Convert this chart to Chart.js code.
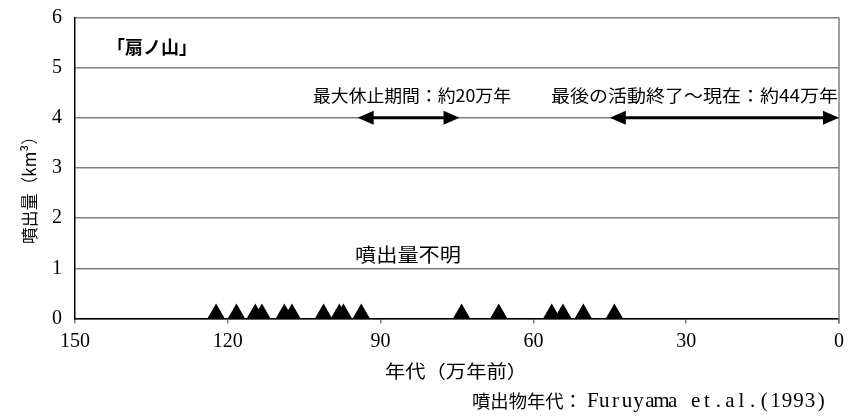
<!DOCTYPE html>
<html>
<head>
<meta charset="utf-8">
<script src="https://cdn.jsdelivr.net/npm/chart.js"></script>
<style>
html,body{margin:0;padding:0;background:#fff;}
#wrap{width:856px;height:418px;}
</style>
</head>
<body>
<div id="wrap"><canvas id="c" width="856" height="418"></canvas></div>
<script>
// ---- data ----
const eruptionAges = [122.3, 118.3, 114.6, 113.3, 108.9, 107.4, 101.2, 98.1, 97.3, 93.8, 74.1, 66.8, 56.4, 54.2, 50.2, 44.1];
const markerLevel = 0.1;
const xTickValues = [150, 120, 90, 60, 30, 0];
const yTickValues = [0, 1, 2, 3, 4, 5, 6];
const arrowStarts = [94.5, 45];
const arrowEnds = [74.5, 0];
const arrowLevels = [4, 4];
const arrowLabels = ['最大休止期間：約20万年', '最後の活動終了～現在：約44万年'];
const volcanoName = '「扇ノ山」';
const unknownLabel = '噴出量不明';
const xTitle = '年代（万年前）';
const yTitle = '噴出量（km³）';
const sourceNoteJa = '噴出物年代：';
const sourceNoteEn = 'Furuyama et.al.(1993)';

const JP = "'Noto Sans CJK JP', 'Noto Sans', sans-serif";
const SERIF = "'Liberation Serif', 'Noto Sans CJK JP', serif";

function fitText(ctx, text, x, y, width, align) {
  const w = ctx.measureText(text).width;
  const s = width / w;
  ctx.save();
  let left = x;
  if (align === 'center') left = x - width / 2;
  else if (align === 'right') left = x - width;
  ctx.translate(left, y);
  ctx.scale(s, 1);
  ctx.textAlign = 'left';
  ctx.fillText(text, 0, 0);
  ctx.restore();
}

function monoText(ctx, text, left, y, advance) {
  ctx.save();
  ctx.textAlign = 'center';
  for (let i = 0; i < text.length; i++) {
    ctx.fillText(text[i], left + (i + 0.5) * advance, y);
  }
  ctx.restore();
}

const annotations = {
  id: 'annotations',
  afterDatasetsDraw(chart) {
    const ctx = chart.ctx;
    const xs = chart.scales.x, ys = chart.scales.y;
    const area = chart.chartArea;
    ctx.save();
    // right frame line
    ctx.strokeStyle = '#808080';
    ctx.lineWidth = 1.5;
    ctx.beginPath();
    ctx.moveTo(xs.getPixelForValue(0), area.top);
    ctx.lineTo(xs.getPixelForValue(0), area.bottom + 5);
    ctx.stroke();

    // arrows
    ctx.fillStyle = '#000';
    ctx.strokeStyle = '#000';
    for (let i = 0; i < arrowStarts.length; i++) {
      const x1 = xs.getPixelForValue(arrowStarts[i]);
      const x2 = xs.getPixelForValue(arrowEnds[i]);
      const y = ys.getPixelForValue(arrowLevels[i]);
      const hl = 16, hh = 7;
      ctx.lineWidth = 3;
      ctx.beginPath();
      ctx.moveTo(x1 + hl - 2, y);
      ctx.lineTo(x2 - hl + 2, y);
      ctx.stroke();
      ctx.beginPath();
      ctx.moveTo(x1, y); ctx.lineTo(x1 + hl, y - hh); ctx.lineTo(x1 + hl, y + hh); ctx.closePath();
      ctx.fill();
      ctx.beginPath();
      ctx.moveTo(x2, y); ctx.lineTo(x2 - hl, y - hh); ctx.lineTo(x2 - hl, y + hh); ctx.closePath();
      ctx.fill();
    }

    ctx.fillStyle = '#000';
    ctx.textBaseline = 'middle';
    // arrow labels
    ctx.font = '17px ' + JP;
    fitText(ctx, arrowLabels[0], 313, 96, 198, 'left');
    fitText(ctx, arrowLabels[1], 551, 96, 287, 'left');
    // unknown volume label
    ctx.font = '19px ' + JP;
    fitText(ctx, unknownLabel, 408, 255, 106, 'center');
    // volcano name
    ctx.font = 'bold 18px ' + JP;
    ctx.textAlign = 'center';
    ctx.fillText(volcanoName, 152, 47);
    // x title
    ctx.font = '18px ' + JP;
    fitText(ctx, xTitle, 456, 371, 142, 'center');
    // source
    ctx.font = '18px ' + JP;
    fitText(ctx, sourceNoteJa, 472, 401, 110, 'left');
    ctx.font = '21px ' + SERIF;
    monoText(ctx, sourceNoteEn, 587, 401, 11.43);
    // y title
    ctx.save();
    ctx.translate(30, 186);
    ctx.rotate(-Math.PI / 2);
    ctx.font = '17px ' + JP;
    fitText(ctx, yTitle, 0, 0, 116, 'center');
    ctx.restore();
    ctx.restore();
  }
};

new Chart(document.getElementById('c'), {
  type: 'scatter',
  data: {
    datasets: [{
      data: eruptionAges.map(a => ({ x: a, y: markerLevel })),
      pointStyle: 'triangle',
      pointRadius: 10,
      pointHoverRadius: 10,
      backgroundColor: '#000',
      borderColor: '#000',
      borderWidth: 0,
      clip: false
    }]
  },
  options: {
    responsive: false,
    animation: false,
    devicePixelRatio: 1,
    layout: { padding: { top: 17.5, right: 17, left: 0, bottom: 0 } },
    plugins: { legend: { display: false }, tooltip: { enabled: false } },
    scales: {
      x: {
        type: 'linear',
        reverse: true,
        min: 0,
        max: 150,
        afterBuildTicks: s => { s.ticks = xTickValues.map(v => ({ value: v })); },
        afterFit: s => { s.height = 99.5; },
        border: { color: '#000', width: 1.5 },
        grid: { drawOnChartArea: false, drawTicks: true, tickLength: 5, color: '#808080', lineWidth: 1.5 },
        ticks: { font: { family: SERIF, size: 20 }, color: '#000', padding: 6, maxRotation: 0 }
      },
      y: {
        min: 0,
        max: 6,
        afterBuildTicks: s => { s.ticks = yTickValues.map(v => ({ value: v })); },
        afterFit: s => { s.width = 75; s.paddingTop = 0; s.paddingBottom = 0; },
        border: { color: '#000', width: 1.5 },
        grid: { color: '#808080', lineWidth: 1.5, drawTicks: false },
        ticks: { font: { family: SERIF, size: 20 }, color: '#000', padding: 13 }
      }
    }
  },
  plugins: [annotations]
});
</script>
</body>
</html>
